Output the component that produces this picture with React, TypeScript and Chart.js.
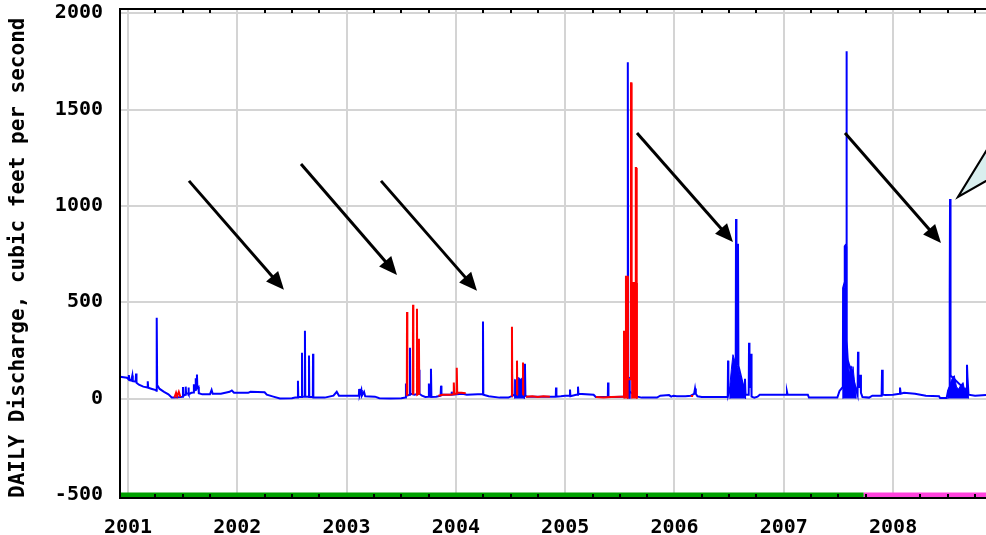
import React, { useEffect, useRef } from "react";
import { Chart, registerables } from "chart.js";

Chart.register(...registerables);

// ---------- data (year, cubic feet per second) ----------
const yearTicks = [2001, 2002, 2003, 2004, 2005, 2006, 2007, 2008];
const valueTicks = [-500, 0, 500, 1000, 1500, 2000];
const xRange = [2000.927, 2008.85];
const yRange = [-516, 2022];

const blueFlow: [number, number][] = [
  [2000.927, 114], [2000.99, 108], [2001.005, 100], [2001.008, 122], [2001.012, 96], [2001.03, 94], [2001.04, 120], [2001.044, 90],
  [2001.07, 88], [2001.074, 130], [2001.078, 82], [2001.1, 72], [2001.14, 62], [2001.178, 58], [2001.181, 90], [2001.185, 56],
  [2001.22, 50], [2001.255, 44], [2001.26, 40], [2001.263, 420], [2001.267, 70], [2001.29, 50], [2001.33, 35], [2001.37, 22],
  [2001.4, 6], [2001.425, 5], [2001.48, 8], [2001.5, 10], [2001.503, 60], [2001.507, 15], [2001.525, 20], [2001.528, 62],
  [2001.532, 25], [2001.55, 28], [2001.553, 58], [2001.557, 22], [2001.58, 30], [2001.6, 32], [2001.603, 75], [2001.607, 40],
  [2001.615, 45], [2001.618, 105], [2001.622, 50], [2001.628, 55], [2001.631, 125], [2001.635, 55], [2001.645, 60], [2001.648, 28],
  [2001.68, 22], [2001.75, 22], [2001.765, 45], [2001.775, 25], [2001.85, 25], [2001.93, 35], [2001.95, 42], [2001.97, 30],
  [2002.1, 30], [2002.12, 35], [2002.25, 33], [2002.27, 20], [2002.33, 10], [2002.39, 0], [2002.5, 2], [2002.53, 6],
  [2002.553, 6], [2002.555, 93], [2002.558, 8], [2002.59, 8], [2002.592, 238], [2002.595, 10], [2002.617, 10], [2002.619, 352],
  [2002.622, 10], [2002.654, 10], [2002.656, 223], [2002.659, 8], [2002.691, 8], [2002.693, 233], [2002.696, 6], [2002.8, 5],
  [2002.88, 15], [2002.91, 35], [2002.93, 15], [2003.1, 15], [2003.112, 15], [2003.115, 50], [2003.12, 18], [2003.135, 45],
  [2003.14, 15], [2003.16, 35], [2003.17, 12], [2003.26, 10], [2003.3, 2], [2003.4, 0], [2003.5, 2], [2003.54, 5],
  [2003.543, 78], [2003.547, 15], [2003.578, 20], [2003.58, 264], [2003.583, 25], [2003.62, 20], [2003.66, 25], [2003.663, 150],
  [2003.667, 25], [2003.69, 15], [2003.72, 8], [2003.75, 10], [2003.753, 78], [2003.757, 10], [2003.769, 10], [2003.772, 155],
  [2003.776, 8], [2003.82, 10], [2003.86, 15], [2003.862, 15], [2003.864, 67], [2003.868, 20], [2003.9, 20], [2003.96, 20],
  [2003.962, 36], [2003.966, 20], [2004.06, 25], [2004.1, 20], [2004.2, 22], [2004.246, 22], [2004.248, 400], [2004.251, 20],
  [2004.3, 12], [2004.4, 5], [2004.48, 5], [2004.5, 10], [2004.51, 12], [2004.513, 155], [2004.517, 20], [2004.54, 15],
  [2004.6, 15], [2004.628, 15], [2004.632, 181], [2004.636, 15], [2004.65, 10], [2004.85, 10], [2004.914, 10], [2004.916, 57],
  [2004.92, 10], [2004.96, 12], [2005.0, 15], [2005.042, 15], [2005.044, 47], [2005.048, 12], [2005.1, 20], [2005.115, 20],
  [2005.117, 62], [2005.121, 25], [2005.26, 20], [2005.28, 8], [2005.39, 8], [2005.392, 83], [2005.396, 8], [2005.45, 8],
  [2005.53, 10], [2005.57, 10], [2005.573, 1746], [2005.577, 40], [2005.66, 10], [2005.7, 5], [2005.84, 5], [2005.87, 15],
  [2005.95, 18], [2005.97, 10], [2005.99, 15], [2006.02, 12], [2006.1, 12], [2006.15, 15], [2006.18, 25], [2006.188, 52],
  [2006.195, 25], [2006.21, 12], [2006.25, 8], [2006.487, 8], [2006.49, 197], [2006.493, 20], [2006.56, 150], [2006.563, 932],
  [2006.567, 200], [2006.578, 180], [2006.581, 803], [2006.585, 170], [2006.64, 40], [2006.645, 103], [2006.65, 20], [2006.679, 20],
  [2006.682, 290], [2006.686, 60], [2006.697, 60], [2006.7, 233], [2006.705, 10], [2006.73, 5], [2006.76, 10], [2006.78, 20],
  [2007.025, 20], [2007.029, 36], [2007.035, 20], [2007.22, 20], [2007.23, 5], [2007.49, 5], [2007.51, 40], [2007.54, 60],
  [2007.543, 575], [2007.555, 600], [2007.558, 790], [2007.57, 800], [2007.573, 1803], [2007.577, 300], [2007.585, 200], [2007.675, 20],
  [2007.679, 243], [2007.683, 60], [2007.697, 60], [2007.7, 124], [2007.706, 30], [2007.72, 8], [2007.78, 5], [2007.81, 15],
  [2007.895, 15], [2007.899, 150], [2007.905, 20], [2007.93, 18], [2008.0, 20], [2008.06, 25], [2008.063, 57], [2008.07, 25],
  [2008.1, 30], [2008.2, 25], [2008.3, 15], [2008.42, 12], [2008.43, 3], [2008.49, 3], [2008.503, 40], [2008.516, 60],
  [2008.518, 565], [2008.521, 1036], [2008.524, 570], [2008.527, 120], [2008.672, 40], [2008.676, 176], [2008.68, 114], [2008.69, 20],
  [2008.75, 15], [2008.85, 18],
];

// dense daily clusters (appear as solid blue)
const blueClusters: [number, number][][] = [
  [[2004.536, 0], [2004.537, 100], [2004.55, 95], [2004.56, 85], [2004.575, 110], [2004.59, 100], [2004.6, 105], [2004.625, 100], [2004.627, 0]],
  [[2005.572, 0], [2005.573, 110], [2005.59, 110], [2005.592, 0]],
  [[2006.505, 0], [2006.507, 70], [2006.52, 150], [2006.535, 228], [2006.55, 200], [2006.57, 180], [2006.59, 140], [2006.605, 110],
   [2006.62, 90], [2006.635, 60], [2006.648, 35], [2006.65, 0]],
  [[2007.538, 0], [2007.54, 300], [2007.542, 575], [2007.553, 575], [2007.555, 790], [2007.571, 790], [2007.575, 250], [2007.59, 180],
   [2007.6, 130], [2007.615, 170], [2007.625, 150], [2007.633, 166], [2007.645, 100], [2007.66, 30], [2007.662, 0]],
  [[2008.5, 0], [2008.502, 40], [2008.515, 60], [2008.53, 90], [2008.545, 109], [2008.56, 119], [2008.58, 60], [2008.6, 50],
   [2008.62, 70], [2008.64, 83], [2008.655, 40], [2008.67, 60], [2008.685, 60], [2008.69, 0]],
];

// provisional / estimated values (red)
const redFlow: [number, number][][] = [
  [[2001.425, 5], [2001.44, 30], [2001.45, 12], [2001.465, 35], [2001.48, 8]],
  [[2003.551, 15], [2003.553, 450], [2003.556, 15]],
  [[2003.606, 20], [2003.608, 487], [2003.611, 20]],
  [[2003.642, 20], [2003.644, 466], [2003.647, 20], [2003.66, 25], [2003.662, 311], [2003.665, 25]],
  [[2003.84, 15], [2003.88, 20], [2003.95, 20], [2003.978, 22], [2003.981, 83], [2003.985, 25], [2004.005, 25], [2004.008, 160],
   [2004.012, 30], [2004.05, 30], [2004.09, 28]],
  [[2004.511, 12], [2004.513, 373], [2004.516, 20]],
  [[2004.557, 20], [2004.559, 197], [2004.562, 20]],
  [[2004.612, 20], [2004.614, 187], [2004.617, 20]],
  [[2004.64, 10], [2004.7, 12], [2004.75, 8], [2004.8, 12], [2004.86, 10]],
  [[2005.28, 8], [2005.35, 6], [2005.42, 8], [2005.5, 10], [2005.537, 10], [2005.538, 347], [2005.555, 347], [2005.556, 632],
   [2005.572, 632], [2005.573, 100], [2005.6, 100], [2005.602, 1637], [2005.606, 1637], [2005.608, 600], [2005.644, 600],
   [2005.646, 1197], [2005.649, 1197], [2005.651, 600], [2005.655, 600], [2005.657, 10], [2005.66, 10]],
  [[2006.15, 14], [2006.17, 14]],
];

const redClusters: [number, number][][] = [
  [[2005.537, 0], [2005.538, 347], [2005.555, 347], [2005.556, 632], [2005.572, 632], [2005.573, 0]],
  [[2005.607, 0], [2005.608, 600], [2005.655, 600], [2005.657, 0]],
];

// approval status bar along the bottom
const approvedSpan = [2000.9, 2007.73];
const provisionalSpan = [2007.73, 2009.2];
const statusLevel = -500;

// annotation arrows [fromYear, fromValue, toYear, toValue]
const arrows: [number, number, number, number][] = [
  [2001.558, 1130, 2002.427, 565],
  [2002.583, 1218, 2003.461, 642],
  [2003.315, 1130, 2004.193, 560],
  [2005.657, 1378, 2006.535, 813],
  [2007.56, 1378, 2008.438, 808],
];
// callout pointer [year, value]
const callout: [number, number][] = [[2008.594, 1047], [2008.98, 1404], [2008.98, 1171]];

const FONT = '"DejaVu Sans Mono", monospace';

const toXY = (pts: [number, number][]) => pts.map(([x, y]) => ({ x, y }));
const withGaps = (segs: [number, number][][]) =>
  segs.flatMap((s) => [...toXY(s), { x: s[s.length - 1][0] + 0.0005, y: null as any }]);

const overlayPlugin = {
  id: "overlay",
  afterDraw(chart: any) {
    const ctx: CanvasRenderingContext2D = chart.ctx;
    const xs = chart.scales.x, ys = chart.scales.y;
    const left = xs.left, right = xs.right, top = ys.top, bottom = ys.bottom;
    ctx.save();
    // frame (top, left, bottom)
    ctx.fillStyle = "#000";
    ctx.fillRect(left - 1, top - 1, right - left + 4, 2);
    ctx.fillRect(left - 1, top - 1, 2, bottom - top + 2);
    ctx.fillRect(left - 1, bottom - 1, right - left + 4, 2);
    // quarter-year minor ticks, top and bottom
    for (let q = Math.ceil(xRange[0] * 4); q <= xRange[1] * 4; q++) {
      const v = q / 4;
      if (Number.isInteger(v)) continue;
      const px = Math.round(xs.getPixelForValue(v));
      ctx.fillRect(px - 1, top, 2, 4);
      ctx.fillRect(px - 1, bottom - 4, 2, 4);
    }

    // arrows
    ctx.strokeStyle = "#000";
    ctx.fillStyle = "#000";
    for (const [fx, fy, tx, ty] of arrows) {
      const x1 = xs.getPixelForValue(fx), y1 = ys.getPixelForValue(fy);
      const x2 = xs.getPixelForValue(tx), y2 = ys.getPixelForValue(ty);
      const ang = Math.atan2(y2 - y1, x2 - x1);
      const L = 18, W = 8;
      const bx = x2 - L * Math.cos(ang), by = y2 - L * Math.sin(ang);
      ctx.lineWidth = 3;
      ctx.beginPath();
      ctx.moveTo(x1, y1);
      ctx.lineTo(bx + 2 * Math.cos(ang), by + 2 * Math.sin(ang));
      ctx.stroke();
      ctx.beginPath();
      ctx.moveTo(x2, y2);
      ctx.lineTo(bx - W * Math.sin(ang), by + W * Math.cos(ang));
      ctx.lineTo(bx + W * Math.sin(ang), by - W * Math.cos(ang));
      ctx.closePath();
      ctx.fill();
    }
    // callout pointer
    ctx.beginPath();
    callout.forEach(([vx, vy], i) => {
      const px = xs.getPixelForValue(vx), py = ys.getPixelForValue(vy);
      if (i === 0) ctx.moveTo(px, py);
      else ctx.lineTo(px, py);
    });
    ctx.closePath();
    ctx.fillStyle = "#d9eeee";
    ctx.fill();
    ctx.lineWidth = 2;
    ctx.stroke();
    ctx.restore();
  },
};

export default function App() {
  const ref = useRef<HTMLCanvasElement>(null);
  useEffect(() => {
    document.body.style.margin = "0";
    const blue = "#0000ff";
    const red = "#ff0000";
    const datasets: any[] = [
      {
        label: "approved",
        data: [{ x: approvedSpan[0], y: statusLevel }, { x: approvedSpan[1], y: statusLevel }],
        borderColor: "#00a000", borderWidth: 5, pointRadius: 0, order: 0,
      },
      {
        label: "provisional",
        data: [{ x: provisionalSpan[0], y: statusLevel }, { x: provisionalSpan[1], y: statusLevel }],
        borderColor: "#ff44dd", borderWidth: 5, pointRadius: 0, order: 0,
      },
      {
        label: "estimated",
        data: withGaps(redFlow),
        borderColor: red, borderWidth: 2, pointRadius: 0, spanGaps: false, order: 1,
      },
      ...redClusters.map((c) => ({
        label: "estimated cluster",
        data: toXY(c),
        borderColor: red, backgroundColor: red, borderWidth: 1, pointRadius: 0, fill: "origin", order: 1,
      })),
      {
        label: "discharge",
        data: toXY(blueFlow),
        borderColor: blue, borderWidth: 2, pointRadius: 0, order: 2,
      },
      ...blueClusters.map((c) => ({
        label: "discharge cluster",
        data: toXY(c),
        borderColor: blue, backgroundColor: blue, borderWidth: 1, pointRadius: 0, fill: "origin", order: 2,
      })),
    ];
    const chart = new Chart(ref.current!, {
      type: "line",
      data: { datasets },
      options: {
        animation: false,
        responsive: false,
        devicePixelRatio: 1,
        layout: { padding: { top: 9, left: 0, right: 0, bottom: 0 } },
        plugins: { legend: { display: false }, tooltip: { enabled: false } },
        elements: { line: { tension: 0 } },
        scales: {
          x: {
            type: "linear",
            min: xRange[0],
            max: xRange[1],
            afterBuildTicks: (s: any) => { s.ticks = yearTicks.map((v) => ({ value: v })); },
            afterFit: (s: any) => { s.height = 37; s.paddingLeft = 0; s.paddingRight = 0; },
            grid: { color: "#d4d4d4", lineWidth: 2, drawTicks: false },
            border: { display: false },
            ticks: {
              padding: 18,
              maxRotation: 0,
              autoSkip: false,
              color: "#000",
              font: { family: FONT, size: 20, weight: "bold" },
              callback: (v: any) => String(v),
            },
          },
          y: {
            type: "linear",
            min: yRange[0],
            max: yRange[1],
            afterBuildTicks: (s: any) => { s.ticks = valueTicks.map((v) => ({ value: v })); },
            afterFit: (s: any) => { s.width = 120; s.paddingTop = 0; s.paddingBottom = 0; },
            grid: { color: "#d4d4d4", lineWidth: 2, drawTicks: false },
            border: { display: false },
            title: {
              display: true,
              align: "start",
              text: "DAILY Discharge, cubic feet per second",
              color: "#000",
              font: { family: FONT, size: 21, weight: "bold" },
              padding: { top: 6, bottom: 0 },
            },
            ticks: {
              padding: 17,
              color: "#000",
              font: { family: FONT, size: 20, weight: "bold" },
              callback: (v: any) => String(v),
            },
          },
        },
      },
      plugins: [overlayPlugin],
    });
    return () => chart.destroy();
  }, []);
  return (
    <div style={{ position: "absolute", left: 0, top: 0, width: 986, height: 535, overflow: "hidden", background: "#fff" }}>
      <canvas ref={ref} width={986} height={535} />
    </div>
  );
}
